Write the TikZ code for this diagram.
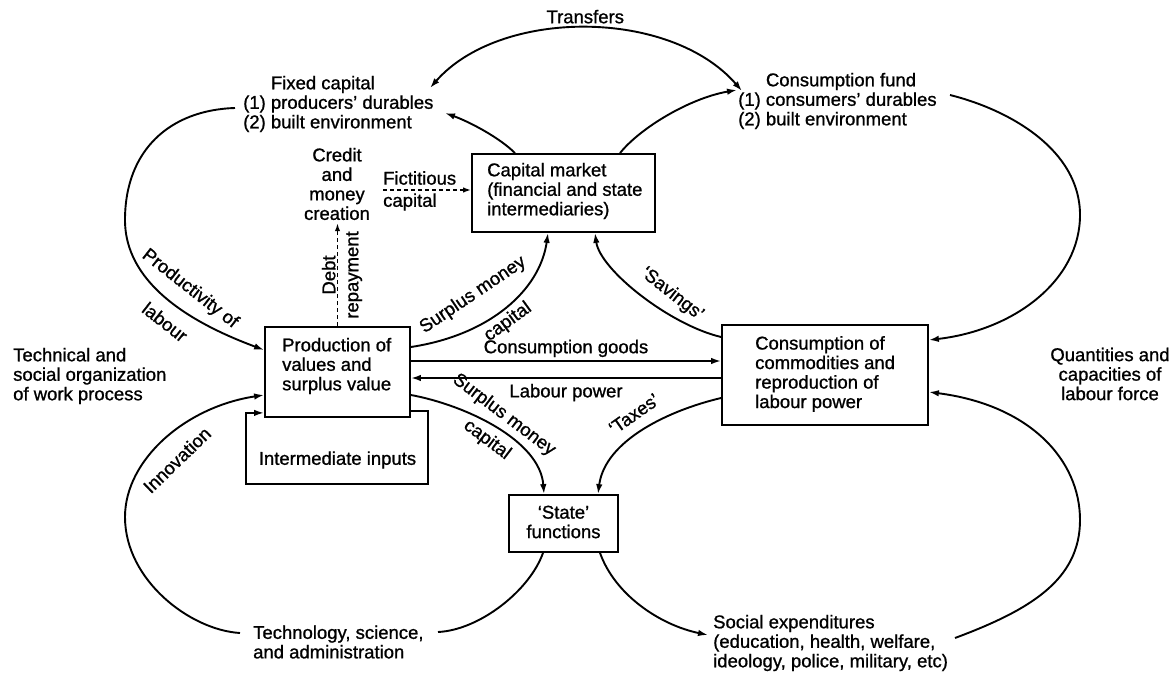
\documentclass[tikz,border=0pt]{standalone}
\usepackage{fontspec}
\setmainfont{Liberation Sans}[FakeBold=1.0]
\usetikzlibrary{arrows.meta,calc}
\begin{document}
\begin{tikzpicture}[x=1pt,y=-1pt,
  every node/.style={font=\fontsize{18.5}{19.5}\selectfont, inner sep=0pt},
  txt/.style={align=left},
  box/.style={draw, line width=1.8pt},
  conn/.style={line width=1.9pt},
  arr/.style={conn, -{Latex[length=10pt,width=6.5pt]}},
  darr/.style={conn, {Latex[length=10pt,width=6.5pt]}-{Latex[length=10pt,width=6.5pt]}},
  dasharr/.style={line width=1.5pt, dash pattern=on 4pt off 3pt, -{Latex[length=8pt,width=5.5pt]}},
]
\useasboundingbox (0,0) rectangle (1175,674);

% boxes
\node[box, minimum width=183pt, minimum height=78pt] (cap) at (563.5,193) {};
\node[txt, anchor=west] (capt) at (487,191) {Capital market\\(financial and state\\intermediaries)};
\node[box, minimum width=145pt, minimum height=90pt] (prod) at (337.5,372) {};
\node[txt, anchor=west] (prodt) at (282,366) {Production of\\values and\\surplus value};
\node[box, minimum width=206pt, minimum height=100pt] (cons) at (825,375) {};
\node[txt, anchor=west] (const) at (755,374) {Consumption of\\commodities and\\reproduction of\\labour power};
\node[box, minimum width=109pt, minimum height=57pt] (state) at (563.5,523.5) {};
\node[align=center] (statet) at (563.5,522) {‘State’\\functions};
\node (inter) at (337.5,460) {Intermediate inputs};

% free texts
\node[txt, anchor=west] (fixed) at (243,104) {\phantom{(1)} Fixed capital\\(1) producers’ durables\\(2) built environment};
\node[txt, anchor=west] (fund) at (738,101) {\phantom{(1)} Consumption fund\\(1) consumers’ durables\\(2) built environment};
\node[align=center, inner sep=3pt] (credit) at (337,184) {Credit\\and\\money\\creation};
\node[txt, anchor=west] (tech) at (13,376) {Technical and\\social organization\\of work process};
\node[align=center] (quant) at (1110,374) {Quantities and\\capacities of\\labour force};
\node[txt, anchor=west] (techno) at (253,642) {Technology, science,\\and administration};
\node[txt, anchor=west] (social) at (713,643) {Social expenditures\\(education, health, welfare,\\ideology, police, military, etc)};

% connector labels
\node[anchor=west] (fict) at (383,178) {Fictitious};
\node[anchor=west] (fcap) at (383,202) {capital};
\node[rotate=90, align=center, font=\fontsize{18.5}{23}\selectfont] (ldebt) at (342,275) {Debt\\repayment};
\node[rotate=-38] (lprod) at (190,289) {Productivity of};
\node[rotate=-38] (llab) at (165,322) {labour};
\node[rotate=44] (linn) at (177,460) {Innovation};
\node[rotate=34] (lsm1) at (473,295) {Surplus money};
\node[rotate=36] (lsm1b) at (508,322) {capital};
\node[rotate=-37] (lsm2) at (504,415) {Surplus money};
\node[rotate=-37] (lsm2b) at (487,440) {capital};
\node[rotate=-38] (lsav) at (672,294) {‘Savings’};
\node[rotate=35] (ltax) at (634,414) {‘Taxes’};

% transfers
\draw[darr] ($(fixed.west)+(187,-16)$) .. controls (500,8) and (670,8) .. ($(fund.west)+(4,-10)$)
  node[pos=0.5, above=4pt] (ltr) {Transfers};
% capital market to fixed capital and consumption fund
\draw[arr] ($(cap.north)+(-48.5,0)$) .. controls (500,138) and (470,122) .. ($(fixed.west)+(202,9)$);
\draw[arr] ($(cap.north)+(56.5,0)$) .. controls (640,128) and (690,98) .. ($(fund.west)+(-1,-11)$);
% big left arcs
\draw[arr] ($(fixed.west)+(-8,4)$) .. controls (170,110) and (125,150) .. (125,220)
  .. controls (125,290) and (205,328) .. ($(prod.west)+(0,-22)$);
\draw[arr] ($(techno.west)+(-13,-9)$) .. controls (190,630) and (125,580) .. (125,517)
  .. controls (125,460) and (185,407) .. ($(prod.west)+(0,23)$);
% big right arcs
\draw[arr] ($(fund.west)+(212,-6)$) .. controls (1010,110) and (1080,150) .. (1080,215)
  .. controls (1080,280) and (1015,330) .. ($(cons.east)+(0,-35)$);
\draw[arr] ($(social.west)+(242,-5)$) .. controls (1030,610) and (1080,580) .. (1080,520)
  .. controls (1080,460) and (1030,405) .. ($(cons.east)+(0,17)$);
% savings, surplus money capital
\draw[arr] ($(cons.west)+(0,-38)$) .. controls (670,325) and (600,270) .. ($(cap.south)+(31.5,0)$);
\draw[arr] ($(prod.east)+(0,-25)$) .. controls (490,335) and (540,290) .. ($(cap.south)+(-15.5,0)$);
% consumption goods, labour power
\draw[arr] ($(prod.east)+(0,-11)$) -- node[above=3pt] (lcg) {Consumption goods} ($(cons.west)+(0,-14)$);
\draw[arr] ($(cons.west)+(0,3)$) -- node[below=5pt] (llp) {Labour power} ($(prod.east)+(0,6)$);
% to state
\draw[arr] ($(prod.east)+(0,23)$) .. controls (465,405) and (540,440) .. ($(state.north)+(-19.5,0)$);
\draw[arr] ($(cons.west)+(0,23)$) .. controls (670,410) and (605,440) .. ($(state.north)+(34.5,0)$);
% from state
\draw[conn] ($(state.south)+(-20.5,0)$) .. controls (530,590) and (480,630) .. ($(techno.west)+(185,-10)$);
\draw[arr] ($(state.south)+(36.5,0)$) .. controls (615,595) and (660,625) .. ($(social.west)+(-5,-8)$);
% intermediate inputs loop
\draw[arr] ($(prod.south east)+(0,-7)$) -- ++(17,0) -- ++(0,73) -- ++(-182,0) -- ++(0,-71) -- ($(prod.south west)+(0,-5)$);
% dashed
\draw[dasharr] (prod.north) -- (prod.north |- credit.south);
\draw[dasharr] ($(credit.east)+(10,6)$) -- ($(cap.west)+(0,-3)$);
\end{tikzpicture}
\end{document}
